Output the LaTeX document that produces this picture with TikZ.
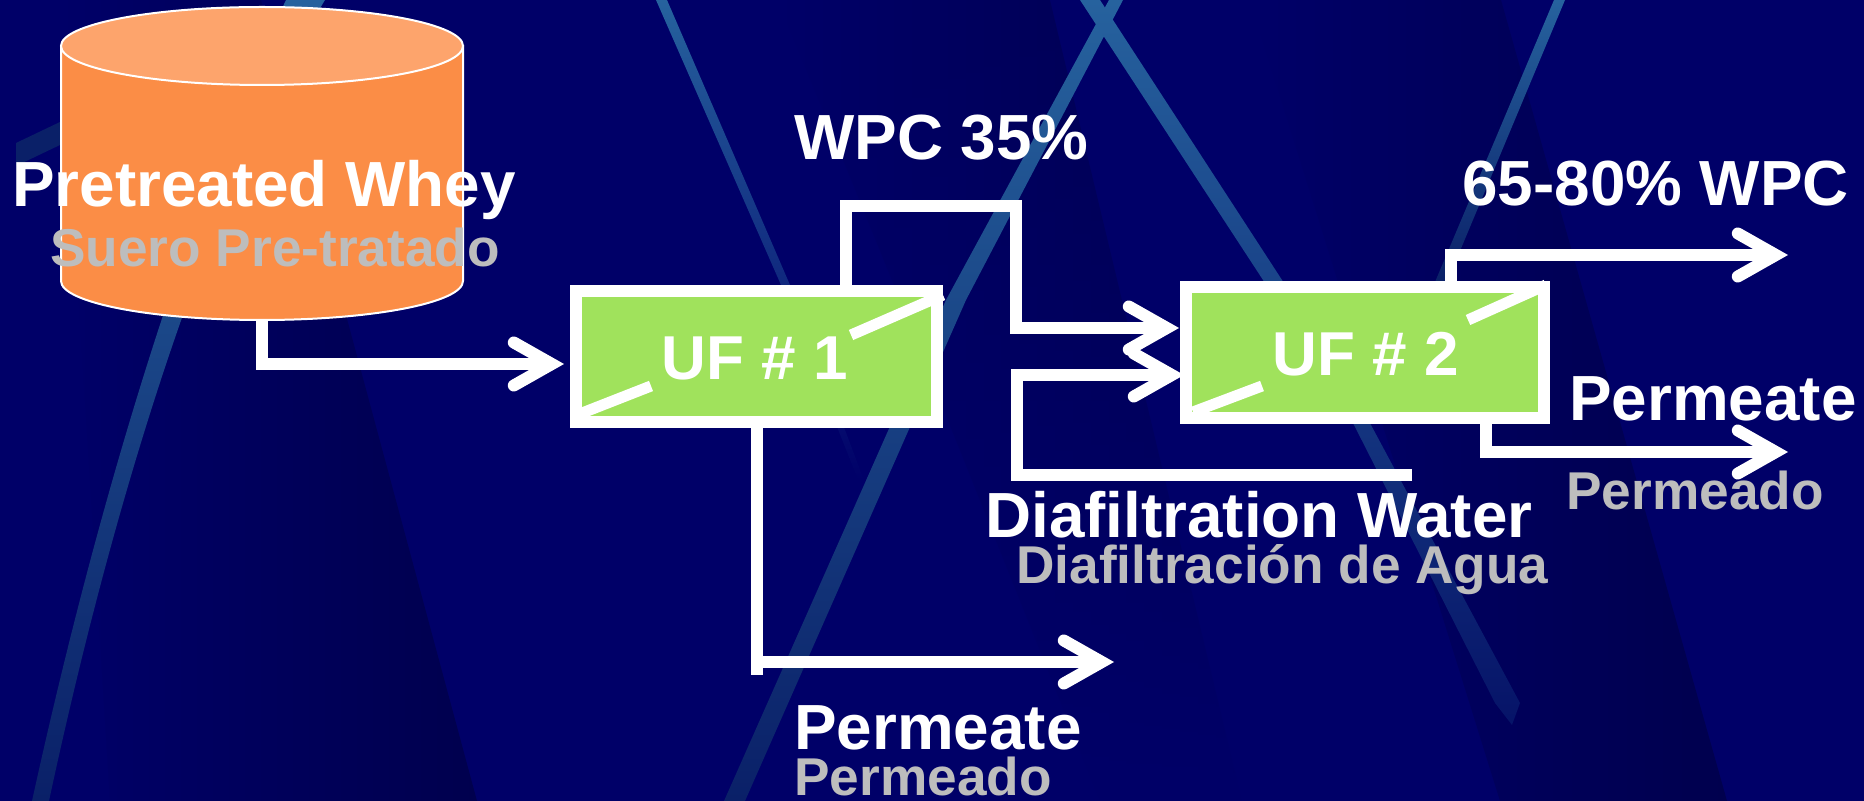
\documentclass[tikz,border=0pt]{standalone}
\usepackage{fontspec}
\setmainfont{Liberation Sans}
\usetikzlibrary{arrows.meta,fadings}
\definecolor{slidedark}{RGB}{0,0,78}
\definecolor{slidebase}{RGB}{0,0,104}
\definecolor{streakblue}{RGB}{38,98,158}
\definecolor{streakfade}{RGB}{10,32,104}
\definecolor{tankbody}{RGB}{251,141,70}
\definecolor{tanktop}{RGB}{253,164,108}
\definecolor{ufgreen}{RGB}{160,226,92}
\definecolor{subgrey}{RGB}{189,189,189}

\begin{document}
\begin{tikzpicture}[x=0.5pt,y=-0.5pt]

%
% Styles
%
\tikzstyle{tank}     = [rectangle,minimum width=201pt,minimum height=156.5pt,inner sep=0pt,outer sep=0pt]
\tikzstyle{tankside} = [draw=white,line width=1pt,fill=tankbody]
\tikzstyle{tankend}  = [draw=white,line width=1pt,fill=tanktop]
\tikzstyle{ufbox}    = [rectangle,draw=white,fill=ufgreen,line width=6pt,minimum height=65.5pt,inner sep=0pt]
\tikzstyle{uflabel}  = [text=white,font=\bfseries\fontsize{31}{37}\selectfont,inner sep=0pt]
\tikzstyle{engname}  = [anchor=base west,text=white,font=\bfseries\fontsize{31.9}{38}\selectfont,inner sep=0pt]
\tikzstyle{espname}  = [anchor=base west,text=subgrey,font=\bfseries\fontsize{26.6}{32}\selectfont,inner sep=0pt]

\tikzstyle{pipe}     = [draw=white,line width=6pt]
\tikzstyle{flow}     = [pipe,-{Straight Barb[line cap=round,line join=miter,length=19pt,width=21.5pt]}]
\tikzstyle{membrane} = [draw=white,line width=5.5pt]
\tikzstyle{streak}   = [top color=streakblue,middle color=streakblue!92!streakfade,bottom color=streakfade]
\tikzstyle{wedge}    = [left color=slidebase,right color=slidedark]

% background
\fill[slidebase] (0,0) rectangle (1864,801);
\useasboundingbox (0,0) rectangle (1864,801);
\shade[wedge] (60,0) -- (261,0) -- (477,801) -- (110,801) -- cycle;
\shade[wedge,path fading=south] (778,0) -- (1050,0) -- (1122,300) -- (1242,801) -- (1100,801) -- (900,300) -- cycle;
\shade[wedge] (1250,0) -- (1501,0) -- (1727,801) -- (1500,801) -- cycle;
\fill[streakfade] (16,143) -- (60,122) -- (60,145) -- (16,166) -- cycle;
\shade[streak] (286,0) .. controls (220,140) and (120,400) .. (32,801) -- (49,801) .. controls (135,400) and (240,140) .. (325,0) -- cycle;
\shade[top color=streakblue,bottom color=slidebase] (656,0) -- (667,0) -- (790,285) -- (864,480) -- (858,480) -- (781,285) -- cycle;
\shade[streak] (1109,0) -- (1123,0) -- (966,300) -- (745,801) -- (724,801) -- (946,300) -- cycle;
\shade[streak,bottom color=streakfade!60!slidebase] (1080,0) -- (1100,0) -- (1282,280) -- (1371,425) -- (1520,703) -- (1512,725) -- (1495,703) -- (1354,425) -- (1263,280) -- cycle;
\shade[streak] (1554,0) -- (1565,0) -- (1447,282) -- (1435,282) -- cycle;

% tank and filters
\filldraw[tankside] (61,46) -- (61,281) arc[start angle=180,end angle=360,x radius=100.5pt,y radius=19.5pt] -- (463,46) -- cycle;
\filldraw[tankend] (262,46) ellipse [x radius=100.5pt,y radius=19.5pt];
\node[tank]  (tank) at (262,163.5) {};
\node[ufbox,minimum width=180.5pt] (uf1) at (756.5,356.5) {};
\node[ufbox,minimum width=179pt]   (uf2) at (1365,353) {};

\draw[membrane] (577,415) -- (651,386);
\draw[membrane] (851,335) -- (943,295);
\draw[membrane] (1193,412) -- (1262,386);
\draw[membrane] (1468,320) -- (1546,285);

\node[uflabel] (uf1name) at (755,358) {UF \# 1};
\node[uflabel] (uf2name) at (1366,354) {UF \# 2};

% free ends of the lines
\coordinate (feed)   at (564,364);
\coordinate (wpc)    at (1016,206);
\coordinate (in1)    at (1179,328);
\coordinate (water)  at (1412,475);
\coordinate (bend)   at (1017,475);
\coordinate (in2)    at (1184,375);
\coordinate (out1)   at (1788,255);
\coordinate (out2)   at (1788,452);
\coordinate (drop)   at (757,675);
\coordinate (out3)   at (1114,662);

\draw[flow] (tank.south) |- (feed);
\draw[flow] ([xshift=44.5pt]uf1.north) |- (wpc) |- (in1);
\draw[flow] (water) -- (bend) |- (in2);
\draw[flow] ([xshift=43pt]uf2.north) |- (out1);
\draw[flow] ([xshift=60.5pt]uf2.south) |- (out2);
\draw[pipe] (drop |- uf1.south) -- (drop);
\draw[flow] (drop |- out3) -- (out3);

% labels
\node[engname] (whey)     at (12,207)   {Pretreated Whey};
\node[espname] (suero)    at (50,267)   {Suero Pre-tratado};
\node[engname] (wpc35)    at (794,160)  {WPC 35\%};
\node[engname] (wpc80)    at (1462,206) {65-80\% WPC};
\node[engname] (perm2)    at (1569,421) {Permeate};
\node[espname] (permes2)  at (1566,510) {Permeado};
\node[engname] (dia)      at (985,538)  {Diafiltration Water};
\node[espname] (diaes)    at (1016,584) {Diafiltración de Agua};
\node[engname] (perm1)    at (794,749)  {Permeate};
\node[espname] (permes1)  at (794,795)  {Permeado};

\end{tikzpicture}
\end{document}
